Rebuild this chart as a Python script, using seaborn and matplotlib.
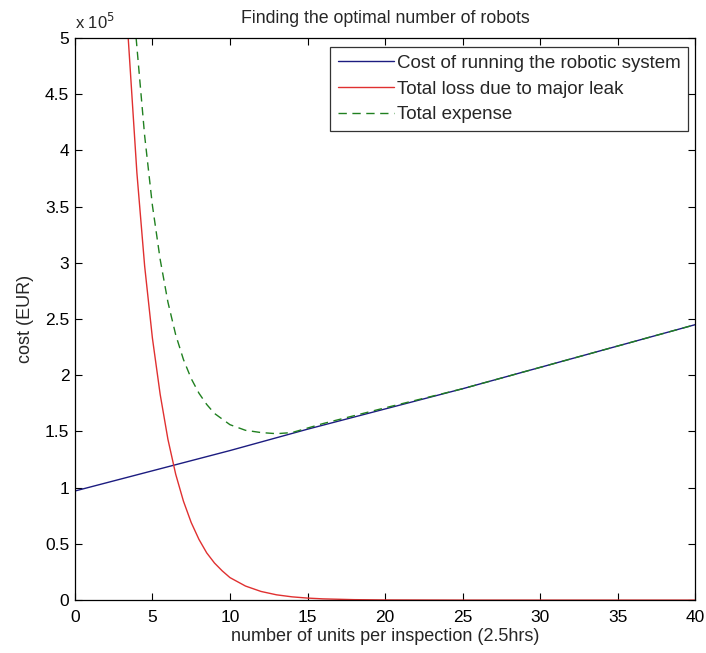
import numpy as np
import pandas as pd
import matplotlib
matplotlib.use("Agg")
import matplotlib.pyplot as plt
import seaborn as sns
from matplotlib.ticker import FuncFormatter, MultipleLocator

# --- DATA (cost in units of 1e5 EUR) ---
units_cost = [0, 5, 10, 15, 20, 25, 30, 35, 40]
cost_running = [0.97, 1.15, 1.33, 1.52, 1.70, 1.88, 2.07, 2.26, 2.45]

units_loss = [3.44, 4.0, 4.5, 5.0, 5.5, 6.0, 6.5, 7.0, 7.5, 8.0, 8.5, 9.0, 9.5,
              10, 11, 12, 13, 14, 15, 16, 18, 20, 25, 40]
loss_leak = [5.0, 3.8, 2.97, 2.33, 1.83, 1.43, 1.12, 0.88, 0.69, 0.54, 0.42,
             0.33, 0.26, 0.20, 0.125, 0.077, 0.047, 0.029, 0.018, 0.011, 0.004,
             0.0015, 0.0, 0.0]

units_total = [3.95, 4.0, 4.5, 5.0, 5.5, 6.0, 6.5, 7.0, 7.5, 8.0, 8.5, 9.0, 9.5,
               10, 11, 12, 13, 14, 15, 16, 18, 20, 25, 30, 35, 40]
total_expense = [5.0, 4.92, 4.13, 3.51, 3.03, 2.65, 2.36, 2.14, 1.97, 1.84,
                 1.74, 1.66, 1.61, 1.56, 1.51, 1.49, 1.48, 1.49, 1.53, 1.57,
                 1.64, 1.71, 1.88, 2.07, 2.26, 2.45]

labels = ["Cost of running the robotic system",
          "Total loss due to major leak",
          "Total expense"]

df = pd.concat([
    pd.DataFrame({"units": units_cost, "cost": cost_running, "series": labels[0]}),
    pd.DataFrame({"units": units_loss, "cost": loss_leak, "series": labels[1]}),
    pd.DataFrame({"units": units_total, "cost": total_expense, "series": labels[2]}),
])

# --- STYLE ---
sns.set_style("ticks")
plt.rcParams["font.family"] = ["Liberation Sans", "DejaVu Sans"]

fig = plt.figure(figsize=(7.06, 6.53), dpi=100)
ax = fig.add_axes([0.106, 0.081, 0.879, 0.861])

sns.lineplot(
    data=df, x="units", y="cost", hue="series", style="series",
    palette=["#1c1c80", "#e03030", "#208020"],
    dashes=[(None, None), (None, None), (6, 4)],
    linewidth=1.0, ax=ax, sort=True, legend=True,
)

ax.set_xlim(0, 40)
ax.set_ylim(0, 5)
ax.xaxis.set_major_locator(MultipleLocator(5))
ax.yaxis.set_major_locator(MultipleLocator(0.5))
ax.yaxis.set_major_formatter(FuncFormatter(lambda v, p: f"{v:g}"))
ax.tick_params(direction="in", top=True, right=True, length=5, width=0.8,
               labelsize=12.5, colors="black", pad=4)
ax.tick_params(axis="x", pad=7)
for s in ax.spines.values():
    s.set_visible(True)
    s.set_linewidth(0.9)
    s.set_color("black")

ax.set_xlabel("number of units per inspection (2.5hrs)", fontsize=13, labelpad=2)
ax.set_ylabel("cost (EUR)", fontsize=13, labelpad=8)
ax.set_title("Finding the optimal number of robots", fontsize=12.8, pad=11)
ax.text(0.0, 1.01, r"x 10$^5$", transform=ax.transAxes, fontsize=12,
        ha="left", va="bottom")

leg = ax.legend(loc="upper right", bbox_to_anchor=(0.988, 0.983), fontsize=13.5,
                frameon=True, fancybox=False, edgecolor="black",
                handlelength=3.0, handletextpad=0.15, borderpad=0.4,
                borderaxespad=0.0, labelspacing=0.45, title=None)
leg.get_frame().set_linewidth(0.9)

fig.savefig("out.png", dpi=100)
